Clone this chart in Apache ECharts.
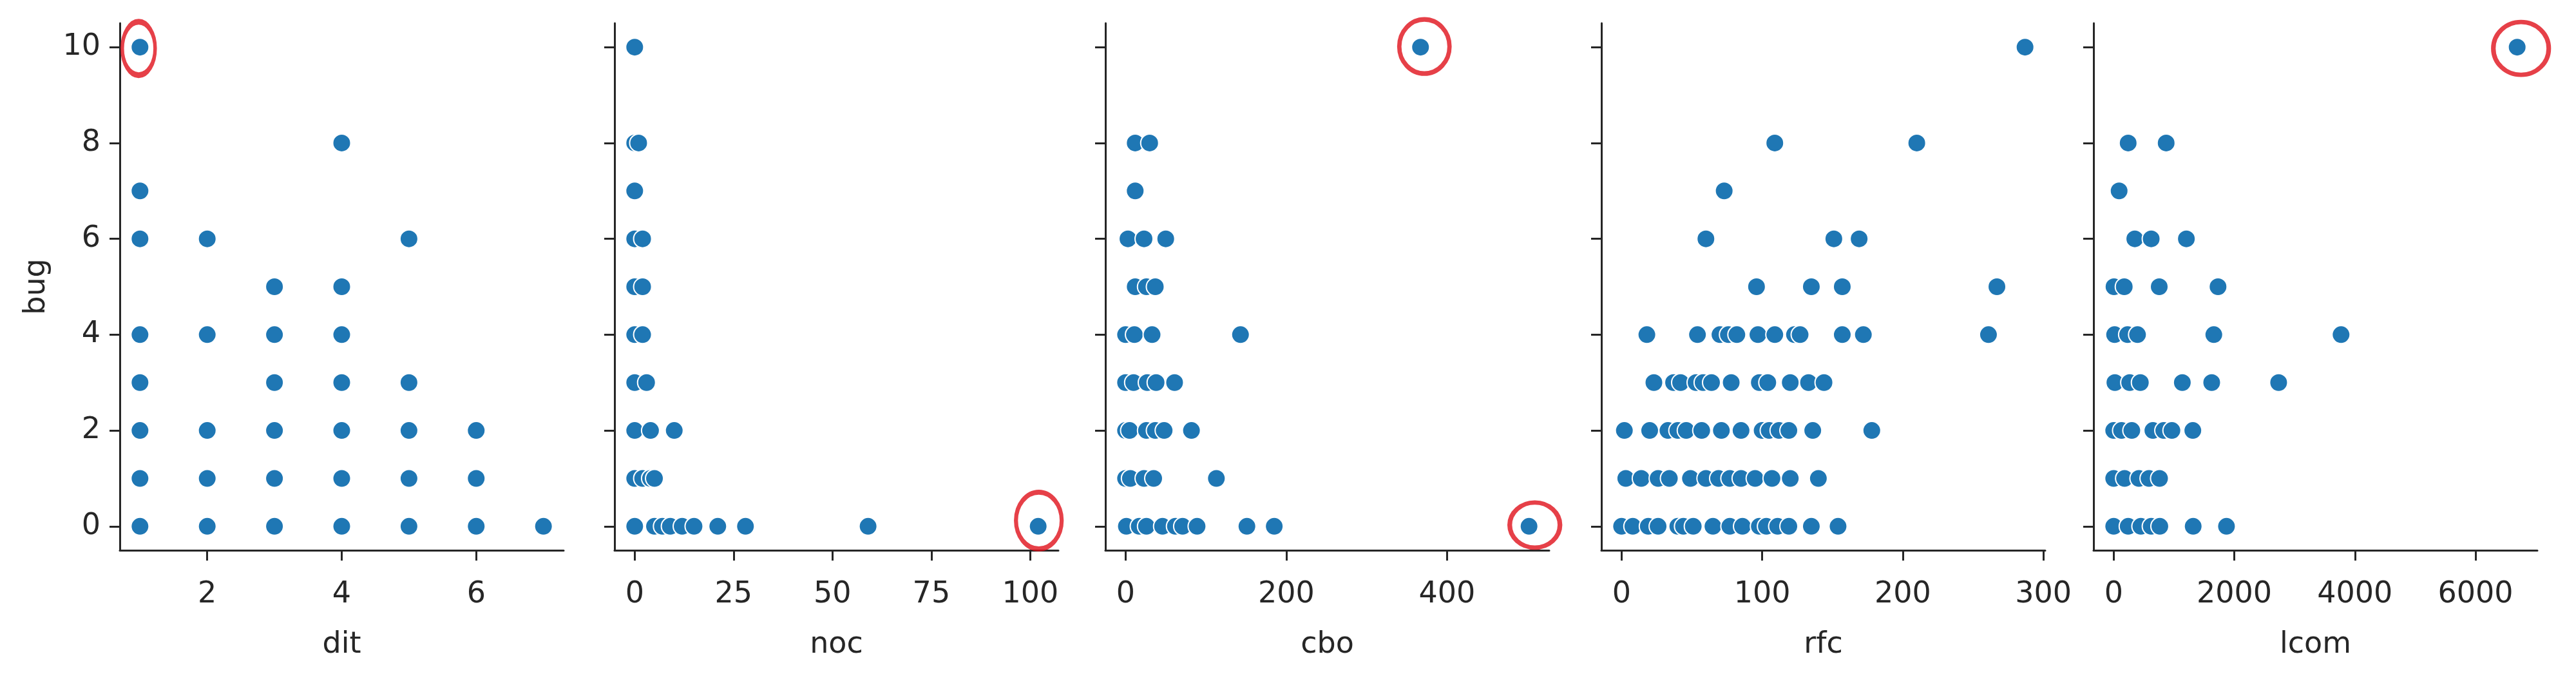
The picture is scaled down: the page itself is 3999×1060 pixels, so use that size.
<!DOCTYPE html>
<html>
<head>
<meta charset="utf-8">
<script src="https://cdn.jsdelivr.net/npm/echarts@6/dist/echarts.min.js"></script>
<style>
  html, body { margin: 0; padding: 0; background: #fff; }
  #chart { width: 3999px; height: 1060px; }
</style>
</head>
<body>
<div id="chart"></div>
<script>
// metric names along the x axes, bug count on the shared y axis
const metricNames = ['dit', 'noc', 'cbo', 'rfc', 'lcom']
const bugTicks = [0, 2, 4, 6, 8, 10]

// [metric value, bug]
const ditPoints = [
  [1, 10], [1, 7], [1, 6], [1, 4], [1, 3], [1, 2], [1, 1], [1, 0],
  [2, 6], [2, 4], [2, 2], [2, 1], [2, 0],
  [3, 5], [3, 4], [3, 3], [3, 2], [3, 1], [3, 0],
  [4, 8], [4, 5], [4, 4], [4, 3], [4, 2], [4, 1], [4, 0],
  [5, 6], [5, 3], [5, 2], [5, 1], [5, 0],
  [6, 2], [6, 1], [6, 0],
  [7, 0],
]
const nocPoints = [
  [0, 10],
  [0, 8], [1, 8],
  [0, 7],
  [0, 6], [2, 6],
  [0, 5], [2, 5],
  [0, 4], [2, 4],
  [0, 3], [3, 3],
  [0, 2], [4, 2], [10, 2],
  [0, 1], [2, 1], [4, 1], [5, 1],
  [0, 0], [5, 0], [7, 0], [9, 0], [12, 0], [15, 0], [21, 0], [28, 0], [59, 0], [102, 0],
]
const cboPoints = [
  [367, 10],
  [12, 8], [30, 8],
  [12, 7],
  [3, 6], [23, 6], [50, 6],
  [12, 5], [26, 5], [37, 5],
  [0, 4], [11, 4], [33, 4], [143, 4],
  [0, 3], [10, 3], [27, 3], [38, 3], [61, 3],
  [0, 2], [5, 2], [26, 2], [37, 2], [48, 2], [82, 2],
  [0, 1], [6, 1], [23, 1], [35, 1], [113, 1],
  [1, 0], [17, 0], [26, 0], [46, 0], [62, 0], [71, 0], [89, 0], [151, 0], [185, 0], [502, 0],
]
const rfcPoints = [
  [287, 10],
  [109, 8], [210, 8],
  [73, 7],
  [60, 6], [151, 6], [169, 6],
  [96, 5], [135, 5], [157, 5], [267, 5],
  [18, 4], [54, 4], [70, 4], [76, 4], [82, 4], [97, 4], [109, 4], [123, 4], [127, 4], [157, 4], [172, 4], [261, 4],
  [23, 3], [37, 3], [42, 3], [53, 3], [58, 3], [64, 3], [78, 3], [98, 3], [104, 3], [120, 3], [133, 3], [144, 3],
  [2, 2], [20, 2], [33, 2], [40, 2], [46, 2], [57, 2], [71, 2], [85, 2], [100, 2], [105, 2], [112, 2], [119, 2], [136, 2], [178, 2],
  [3, 1], [14, 1], [26, 1], [34, 1], [49, 1], [60, 1], [69, 1], [77, 1], [85, 1], [95, 1], [107, 1], [120, 1], [140, 1],
  [0, 0], [8, 0], [19, 0], [26, 0], [40, 0], [44, 0], [51, 0], [65, 0], [77, 0], [86, 0], [98, 0], [103, 0], [111, 0], [119, 0], [135, 0], [154, 0],
]
const lcomPoints = [
  [6690, 10],
  [240, 8], [870, 8],
  [90, 7],
  [350, 6], [622, 6], [1205, 6],
  [5, 5], [175, 5], [755, 5], [1730, 5],
  [15, 4], [230, 4], [395, 4], [1660, 4], [3770, 4],
  [20, 3], [265, 3], [442, 3], [1138, 3], [1625, 3], [2735, 3],
  [0, 2], [130, 2], [300, 2], [650, 2], [830, 2], [965, 2], [1312, 2],
  [0, 1], [180, 1], [418, 1], [585, 1], [760, 1],
  [0, 0], [240, 0], [450, 0], [622, 0], [765, 0], [1318, 0], [1870, 0],
]

const ditTicks = [2, 4, 6]
const nocTicks = [0, 25, 50, 75, 100]
const cboTicks = [0, 200, 400]
const rfcTicks = [0, 100, 200, 300]
const lcomTicks = [0, 2000, 4000, 6000]

// points marked with a red ring in the original
const ditCircled = [[1, 10]]
const nocCircled = [[102, 0]]
const cboCircled = [[367, 10], [502, 0]]
const rfcCircled = []
const lcomCircled = [[6690, 10]]

// ring shape for each marked point: [width, height, dx, dy]
const ditRings = [[51, 83, -2, 2]]
const nocRings = [[71, 88, 1, -9]]
const cboRings = [[78, 84, 6, -1], [78, 70, 9, -2]]
const rfcRings = []
const lcomRings = [[86, 82, 6, 2]]

const panels = [
  { points: ditPoints, ticks: ditTicks, circled: ditCircled, rings: ditRings, left: 186 },
  { points: nocPoints, ticks: nocTicks, circled: nocCircled, rings: nocRings, left: 954 },
  { points: cboPoints, ticks: cboTicks, circled: cboCircled, rings: cboRings, left: 1716 },
  { points: rfcPoints, ticks: rfcTicks, circled: rfcCircled, rings: rfcRings, left: 2486 },
  { points: lcomPoints, ticks: lcomTicks, circled: lcomCircled, rings: lcomRings, left: 3250 },
]

const TEXT = '#262626'
const FONT = 'DejaVu Sans'
const FS = 46
const GRID_W = 689
const GRID_TOP = 36
const GRID_H = 818

// matplotlib style 5% padding around the data range
function padded(values) {
  const lo = Math.min(...values)
  const hi = Math.max(...values)
  const m = (hi - lo) * 0.05
  return [lo - m, hi + m]
}

const chart = echarts.init(document.getElementById('chart'))

const grid = []
const xAxis = []
const yAxis = []
const series = []

panels.forEach((p, i) => {
  grid.push({ left: p.left, top: GRID_TOP, width: GRID_W, height: GRID_H, containLabel: false })

  const [xmin, xmax] = padded(p.points.map((d) => d[0]))
  const [ymin, ymax] = padded(p.points.map((d) => d[1]))
  const axisLine = { show: true, onZero: false, lineStyle: { color: TEXT, width: 3 } }
  const axisTick = { show: true, length: 16, lineStyle: { color: TEXT, width: 3 } }

  xAxis.push({
    type: 'value',
    gridIndex: i,
    min: xmin,
    max: xmax,
    name: metricNames[i],
    nameLocation: 'middle',
    nameGap: 124,
    nameTextStyle: { color: TEXT, fontSize: FS, fontFamily: FONT },
    axisLine,
    axisTick: { ...axisTick, customValues: p.ticks },
    axisLabel: {
      color: TEXT, fontSize: FS, fontFamily: FONT, margin: 46,
      customValues: p.ticks,
      formatter: (v) => String(v),
    },
    splitLine: { show: false },
  })

  yAxis.push({
    type: 'value',
    gridIndex: i,
    min: ymin,
    max: ymax,
    name: i === 0 ? 'bug' : '',
    nameLocation: 'middle',
    nameGap: 106,
    nameTextStyle: { color: TEXT, fontSize: FS, fontFamily: FONT },
    axisLine,
    axisTick: { ...axisTick, customValues: bugTicks },
    axisLabel: {
      show: i === 0, color: TEXT, fontSize: FS, fontFamily: FONT, margin: 30,
      customValues: bugTicks,
      formatter: (v) => String(v),
    },
    splitLine: { show: false },
  })

  series.push({
    type: 'scatter',
    xAxisIndex: i,
    yAxisIndex: i,
    symbol: 'circle',
    symbolSize: 28,
    itemStyle: { color: '#1f77b4', borderColor: '#ffffff', borderWidth: 2, opacity: 1 },
    data: p.points,
    clip: false,
    z: 2,
  })

  if (p.circled.length) {
    series.push({
      type: 'scatter',
      xAxisIndex: i,
      yAxisIndex: i,
      symbol: 'circle',
      itemStyle: { color: 'rgba(0,0,0,0)', borderColor: '#e0101a', borderWidth: 7 },
      data: p.circled.map((v, k) => ({
        value: v,
        symbolSize: [p.rings[k][0], p.rings[k][1]],
        symbolOffset: [p.rings[k][2], p.rings[k][3]],
      })),
      clip: false,
      silent: true,
      z: 3,
    })
  }
})

chart.setOption({
  backgroundColor: '#ffffff',
  animation: false,
  grid,
  xAxis,
  yAxis,
  series,
})
</script>
</body>
</html>
